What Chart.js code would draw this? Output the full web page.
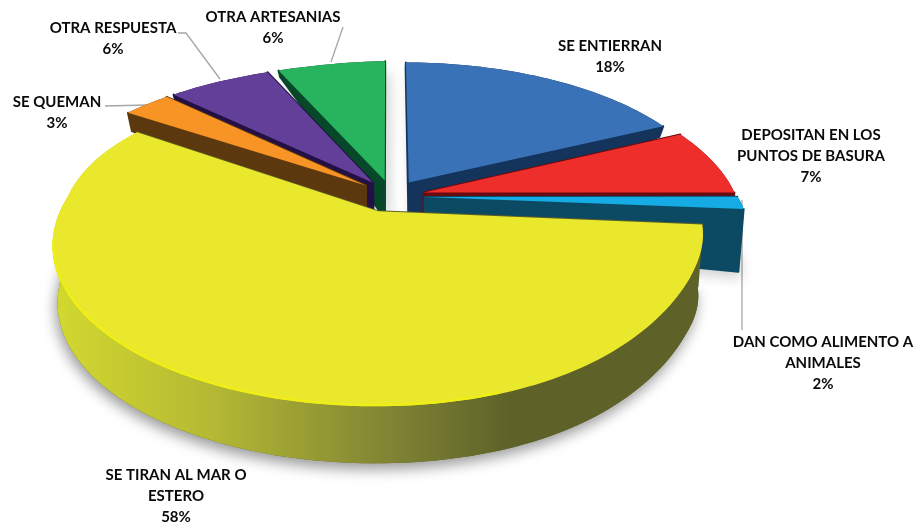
<!DOCTYPE html>
<html>
<head>
<meta charset="utf-8">
<style>
html, body { margin: 0; padding: 0; background: #fff; }
canvas { display: block; }
</style>
<script src="https://cdn.jsdelivr.net/npm/chart.js@4/dist/chart.umd.min.js"></script>
</head>
<body>
<canvas id="myChart" width="916" height="525"></canvas>
<script>
var categories = ['SE ENTIERRAN', 'DEPOSITAN EN LOS PUNTOS DE BASURA', 'DAN COMO ALIMENTO A ANIMALES', 'SE TIRAN AL MAR O ESTERO', 'SE QUEMAN', 'OTRA RESPUESTA', 'OTRA ARTESANIAS'];
var values = [18, 7, 2, 58, 3, 6, 6];
var topColors = ['#3A72B8', '#EE2E2A', '#15ACE6', '#E9E82C', '#F89426', '#62409A', '#28B45E'];
var sideColors = ['#14345C', '#6B0A10', '#0C4A63', '#5E6228', '#5C380E', '#241045', '#07472A'];

// label layout: text lines and centre of each line
var labelLines = [['SE ENTIERRAN'], ['DEPOSITAN EN LOS', 'PUNTOS DE BASURA'], ['DAN COMO ALIMENTO A', 'ANIMALES'], ['SE TIRAN AL MAR O', 'ESTERO'], ['SE QUEMAN'], ['OTRA RESPUESTA'], ['OTRA ARTESANIAS']];
var labelX = [610, 811, 823, 176, 57, 113, 273];
var labelY = [46, 135, 342, 475, 102, 28, 17];
var leaders = [
    [[105, 106], [147, 105]],
    [[178, 33], [186, 33], [220, 79]],
    [[343, 27], [331, 62]],
    [[742, 200], [742, 330]]
];

// fake 3d camera, tuned by eye against the picture
var CX = 391, CY = 196, RX = 312, RY = 149, PERSP = 0.2;

function project(u, v) {
    var s = 1 / (1 - PERSP * v);
    var x = CX + RX * u * s, y = CY + RY * v * s;
    if (u < 0 && v < 0) {
        x -= 30 * u * v;
        y += 6 * u * v;
    }
    if (u > 0 && v > 0) {
        y -= 37 * Math.pow(u, 4) * v;
    }
    return [x, y];
}

function depth(u, v) {
    var t = Math.min(Math.max((v + 1.1) / 1.28, 0), 1);
    var d = 6 + 51 * Math.pow(t, 1.9) - 28 * u * t * (1 - t);
    if (u > 0.85) d += 12 * (u - 0.85) / 0.25 * Math.pow(t, 4);
    return d;
}

function projectBottom(u, v) {
    var p = project(u, v);
    return [CX + (p[0] - CX) * 0.985, p[1] + depth(u, v)];
}

function tracePath(ctx, pts) {
    ctx.beginPath();
    pts.forEach(function(p, i) {
        if (i == 0) ctx.moveTo(p[0], p[1]); else ctx.lineTo(p[0], p[1]);
    });
    ctx.closePath();
}

function drawSlice(ctx, el, i) {
    var e = el.options.offset / el.outerRadius;
    var mid = (el.startAngle + el.endAngle) / 2;
    var ox = e * Math.cos(mid), oy = e * Math.sin(mid);
    var rim = [];
    var steps = Math.ceil((el.endAngle - el.startAngle) * 40);
    for (var k = 0; k <= steps; k++) {
        var a = el.startAngle + (el.endAngle - el.startAngle) * k / steps;
        rim.push([Math.cos(a) + ox, Math.sin(a) + oy]);
    }
    var rimTop = rim.map(function(p) { return project(p[0], p[1]); });
    var rimBot = rim.map(function(p) { return projectBottom(p[0], p[1]); });
    var apexTop = project(ox, oy), apexBot = projectBottom(ox, oy);
    var side = sideColors[i];

    var wallFill = side;
    if (i == 3) {
        wallFill = ctx.createLinearGradient(55, 0, 510, 0);
        wallFill.addColorStop(0, '#D2D92F');
        wallFill.addColorStop(0.35, '#B4B834');
        wallFill.addColorStop(0.75, '#7E8233');
        wallFill.addColorStop(1, '#5E6228');
    }

    // soft shadow under the whole slice
    ctx.save();
    ctx.shadowColor = i == 3 ? 'rgba(0,0,0,0.4)' : 'rgba(0,0,0,0.2)';
    ctx.shadowBlur = 14;
    ctx.shadowOffsetX = i == 3 ? -2 : 4;
    ctx.shadowOffsetY = 6;
    ctx.fillStyle = side;
    tracePath(ctx, [apexBot].concat(rimBot));
    ctx.fill();
    ctx.restore();

    // cut faces
    ctx.fillStyle = side;
    ctx.strokeStyle = side;
    ctx.lineJoin = 'round';
    ctx.lineWidth = 2;
    [0, rim.length - 1].forEach(function(n) {
        tracePath(ctx, [apexTop, rimTop[n], rimBot[n], apexBot]);
        ctx.fill();
        ctx.stroke();
    });

    // outer wall
    ctx.fillStyle = wallFill;
    tracePath(ctx, rimTop.concat(rimBot.slice().reverse()));
    ctx.fill();

    // top face
    ctx.fillStyle = topColors[i];
    tracePath(ctx, [apexTop].concat(rimTop));
    ctx.fill();

    // bevel on the yellow front edge
    if (i == 3) {
        ctx.save();
        tracePath(ctx, [apexTop].concat(rimTop));
        ctx.clip();
        ctx.strokeStyle = '#EFEE16';
        ctx.lineWidth = 5;
        ctx.beginPath();
        rimTop.forEach(function(p, k) {
            if (k < rimTop.length * 0.3 || p[1] < 235) return;
            ctx.lineTo(p[0], p[1]);
        });
        ctx.stroke();
        ctx.restore();
    }
}

var pie3d = {
    id: 'pie3d',
    beforeDatasetsDraw: function(chart) {
        var ctx = chart.ctx;
        var arcs = chart.getDatasetMeta(0).data;
        var order = arcs.map(function(el, i) { return i; });
        order.sort(function(a, b) {
            var ma = (arcs[a].startAngle + arcs[a].endAngle) / 2;
            var mb = (arcs[b].startAngle + arcs[b].endAngle) / 2;
            return Math.sin(ma) - Math.sin(mb);
        });

        ctx.save();
        ctx.strokeStyle = '#A6A6A6';
        ctx.lineWidth = 1.3;
        leaders.forEach(function(line) {
            ctx.beginPath();
            line.forEach(function(p, i) {
                if (i == 0) ctx.moveTo(p[0], p[1]); else ctx.lineTo(p[0], p[1]);
            });
            ctx.stroke();
        });
        ctx.restore();

        order.forEach(function(i) { drawSlice(ctx, arcs[i], i); });

        ctx.save();
        ctx.fillStyle = '#0A0A0A';
        ctx.font = 'bold 15px Lato';
        ctx.textAlign = 'center';
        ctx.textBaseline = 'middle';
        labelLines.forEach(function(lines, i) {
            var all = lines.concat([values[i] + '%']);
            all.forEach(function(txt, k) {
                ctx.fillText(txt, labelX[i], labelY[i] + k * 21.3);
            });
        });
        ctx.restore();
        return false;
    }
};

var ctx = document.getElementById('myChart').getContext('2d');
var chart = new Chart(ctx, {
    type: 'pie',
    data: {
        labels: categories,
        datasets: [{
            data: values,
            backgroundColor: topColors,
            borderWidth: 0,
            offset: 27
        }]
    },
    options: {
        responsive: false,
        animation: false,
        plugins: {
            legend: { display: false },
            tooltip: { enabled: false }
        }
    },
    plugins: [pie3d]
});
</script>
</body>
</html>
